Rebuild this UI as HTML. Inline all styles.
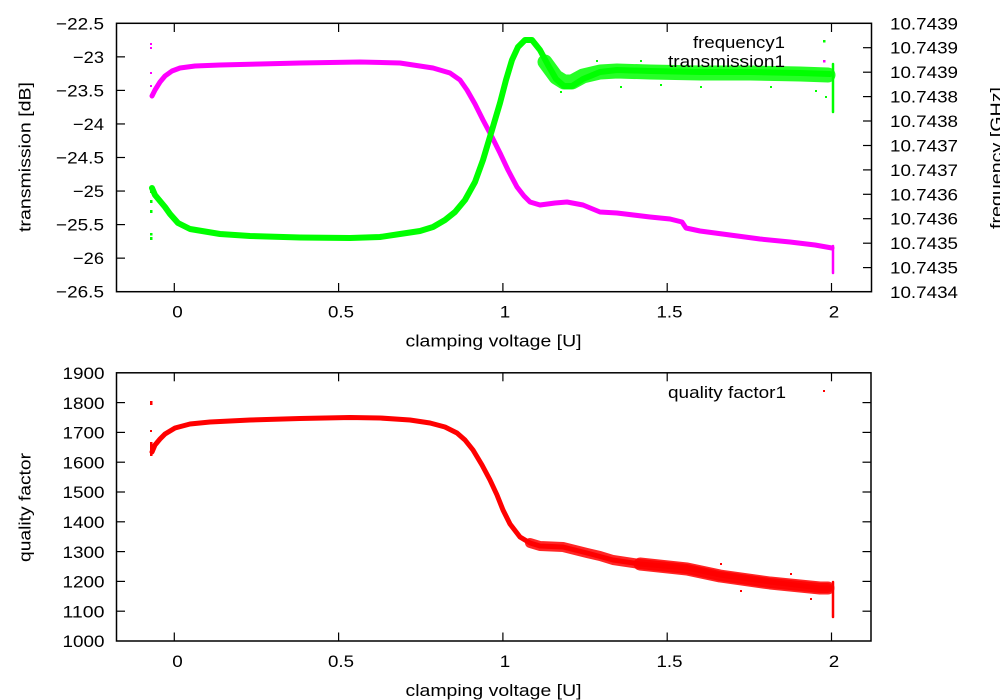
<!DOCTYPE html>
<html><head><meta charset="utf-8"><style>
html,body{margin:0;padding:0;background:#fff;}
svg{display:block;}
text{font-family:"Liberation Sans",Arial,sans-serif;font-size:17px;fill:#000;}
</style></head><body>
<svg width="1000" height="700" viewBox="0 0 1000 700" xmlns="http://www.w3.org/2000/svg">
<rect width="1000" height="700" fill="#fff"/>

<!-- ===== TOP PLOT ===== -->
<g fill="none" stroke-linecap="round" stroke-linejoin="round">
<polyline stroke="#ff00ff" stroke-width="5" points="152,96 155,90 160,82 165,76 172,71 180,68 195,66 220,65 260,64 300,63 360,62 400,63 433,68 450,73 460,80 467,90 475,104 483,120 492,137 500,153 508,170 517,187 524,196 530,202 540,205 555,203 567,202 583,205 600,212 617,213 650,217 670,219 682,222 686,228 700,231 730,235 760,239 790,242 815,245 832,248"/>
<line x1="833" y1="246" x2="833" y2="273" stroke="#ff00ff" stroke-width="2.5"/>
<polyline stroke="#00ff00" stroke-width="6" points="152,188 155,195 160,201 165,207 170,214 178,223 190,229 220,234 250,236 300,237.5 350,238 380,237 400,234 420,231 433,227 445,220 455,212 465,200 475,182 483,160 492,130 500,103 506,80 512,60 518,47 525,40 532,40 540,50 548,65 556,79 564,86 572,86 583,79 600,72 617,70 650,71 700,72 750,72 800,73 830,74"/>
<polyline stroke="#00ff00" stroke-width="15" stroke-opacity="0.85" points="545,62 556,77 564,82 572,82 583,76 600,72 617,71 650,72 700,73 750,73 800,74 828,75"/>
<line x1="833" y1="64" x2="833" y2="112" stroke="#00ff00" stroke-width="2.5"/>
</g>
<g fill="#ff00ff">
<rect x="150" y="43" width="2" height="2"/><rect x="150" y="47" width="2" height="2"/>
<rect x="150" y="72" width="2" height="2"/><rect x="150" y="85" width="2" height="2"/>
</g>
<g fill="#00ff00">
<rect x="150" y="210" width="2.5" height="3"/><rect x="150" y="233" width="2.5" height="2.5"/>
<rect x="150" y="237" width="2.5" height="3"/><rect x="150" y="190" width="2.5" height="3"/>
<rect x="150" y="200" width="2.5" height="3"/>
<rect x="596" y="60" width="2" height="2"/><rect x="640" y="60" width="2" height="2"/>
<rect x="700" y="86" width="2" height="2"/><rect x="770" y="86" width="2" height="2"/>
<rect x="815" y="90" width="2" height="2"/><rect x="825" y="96" width="2" height="2"/>
<rect x="740" y="59" width="2" height="2"/><rect x="560" y="91" width="2" height="2"/>
<rect x="660" y="84" width="2" height="2"/><rect x="620" y="86" width="2" height="2"/>
</g>

<g stroke="#000" stroke-width="1.5" fill="none">
<rect x="116.5" y="23.3" width="755" height="268.4"/>
</g>
<g stroke="#000" stroke-width="1.2">
<line x1="116.5" y1="56.85" x2="125" y2="56.85"/>
<line x1="116.5" y1="90.4" x2="125" y2="90.4"/>
<line x1="116.5" y1="123.95" x2="125" y2="123.95"/>
<line x1="116.5" y1="157.5" x2="125" y2="157.5"/>
<line x1="116.5" y1="191.05" x2="125" y2="191.05"/>
<line x1="116.5" y1="224.6" x2="125" y2="224.6"/>
<line x1="116.5" y1="258.15" x2="125" y2="258.15"/>
<line x1="871.5" y1="47.7" x2="863" y2="47.7"/>
<line x1="871.5" y1="72.2" x2="863" y2="72.2"/>
<line x1="871.5" y1="96.6" x2="863" y2="96.6"/>
<line x1="871.5" y1="121.0" x2="863" y2="121.0"/>
<line x1="871.5" y1="145.5" x2="863" y2="145.5"/>
<line x1="871.5" y1="169.9" x2="863" y2="169.9"/>
<line x1="871.5" y1="194.3" x2="863" y2="194.3"/>
<line x1="871.5" y1="218.7" x2="863" y2="218.7"/>
<line x1="871.5" y1="243.2" x2="863" y2="243.2"/>
<line x1="871.5" y1="267.6" x2="863" y2="267.6"/>
<line x1="174.3" y1="291.7" x2="174.3" y2="283"/><line x1="174.3" y1="23.3" x2="174.3" y2="32"/>
<line x1="338.6" y1="291.7" x2="338.6" y2="283"/><line x1="338.6" y1="23.3" x2="338.6" y2="32"/>
<line x1="502.9" y1="291.7" x2="502.9" y2="283"/><line x1="502.9" y1="23.3" x2="502.9" y2="32"/>
<line x1="667.2" y1="291.7" x2="667.2" y2="283"/><line x1="667.2" y1="23.3" x2="667.2" y2="32"/>
<line x1="831.5" y1="291.7" x2="831.5" y2="283"/><line x1="831.5" y1="23.3" x2="831.5" y2="32"/>
</g>
<g text-anchor="end">
<text x="104" y="29.5" textLength="48" lengthAdjust="spacingAndGlyphs">−22.5</text>
<text x="104" y="63" textLength="31" lengthAdjust="spacingAndGlyphs">−23</text>
<text x="104" y="96.5" textLength="48" lengthAdjust="spacingAndGlyphs">−23.5</text>
<text x="104" y="130" textLength="31" lengthAdjust="spacingAndGlyphs">−24</text>
<text x="104" y="163.5" textLength="48" lengthAdjust="spacingAndGlyphs">−24.5</text>
<text x="104" y="197" textLength="31" lengthAdjust="spacingAndGlyphs">−25</text>
<text x="104" y="230.6" textLength="48" lengthAdjust="spacingAndGlyphs">−25.5</text>
<text x="104" y="264.2" textLength="31" lengthAdjust="spacingAndGlyphs">−26</text>
<text x="104" y="297.7" textLength="48" lengthAdjust="spacingAndGlyphs">−26.5</text>
</g>
<g text-anchor="start">
<text x="890" y="29.3" textLength="68" lengthAdjust="spacingAndGlyphs">10.7439</text>
<text x="890" y="53.7" textLength="68" lengthAdjust="spacingAndGlyphs">10.7439</text>
<text x="890" y="78.2" textLength="68" lengthAdjust="spacingAndGlyphs">10.7439</text>
<text x="890" y="102.6" textLength="68" lengthAdjust="spacingAndGlyphs">10.7438</text>
<text x="890" y="127" textLength="68" lengthAdjust="spacingAndGlyphs">10.7438</text>
<text x="890" y="151.5" textLength="68" lengthAdjust="spacingAndGlyphs">10.7437</text>
<text x="890" y="175.9" textLength="68" lengthAdjust="spacingAndGlyphs">10.7437</text>
<text x="890" y="200.3" textLength="68" lengthAdjust="spacingAndGlyphs">10.7436</text>
<text x="890" y="224.7" textLength="68" lengthAdjust="spacingAndGlyphs">10.7436</text>
<text x="890" y="249.2" textLength="68" lengthAdjust="spacingAndGlyphs">10.7435</text>
<text x="890" y="273.6" textLength="68" lengthAdjust="spacingAndGlyphs">10.7435</text>
<text x="890" y="298" textLength="68" lengthAdjust="spacingAndGlyphs">10.7434</text>
</g>
<g text-anchor="middle">
<text x="177.5" y="317.5" textLength="10.5" lengthAdjust="spacingAndGlyphs">0</text>
<text x="341" y="317.5" textLength="26" lengthAdjust="spacingAndGlyphs">0.5</text>
<text x="505" y="317.5" textLength="10.5" lengthAdjust="spacingAndGlyphs">1</text>
<text x="669.5" y="317.5" textLength="26" lengthAdjust="spacingAndGlyphs">1.5</text>
<text x="834" y="317.5" textLength="10.5" lengthAdjust="spacingAndGlyphs">2</text>
<text x="493.5" y="346.5" textLength="176" lengthAdjust="spacingAndGlyphs">clamping voltage [U]</text>
</g>
<text transform="translate(30.5,157) rotate(-90)" text-anchor="middle" textLength="150" lengthAdjust="spacingAndGlyphs">transmission [dB]</text>
<text transform="translate(1002,158) rotate(-90)" text-anchor="middle" textLength="142" lengthAdjust="spacingAndGlyphs">frequency [GHz]</text>
<text x="785" y="48" text-anchor="end" textLength="92" lengthAdjust="spacingAndGlyphs">frequency1</text>
<text x="785" y="67" text-anchor="end" textLength="117" lengthAdjust="spacingAndGlyphs">transmission1</text>
<rect x="823" y="40" width="2.5" height="2.5" fill="#00ff00"/>
<rect x="823" y="60" width="2.5" height="2.5" fill="#ff00ff"/>

<!-- ===== BOTTOM PLOT ===== -->
<g fill="none" stroke-linecap="round" stroke-linejoin="round">
<polyline stroke="#ff0000" stroke-width="5" points="152,452 155,445 160,439 165,434 175,428 190,424 210,422 250,420 300,418.5 350,417.5 380,418 410,420 430,423 445,427 457,433 465,440 473,450 482,465 490,480 497,495 503,510 510,524 520,537 530,543 540,546 563,547 587,553 613,560 640,564 687,568 720,575 770,582 820,588 830,588"/>
<polyline stroke="#ff0000" stroke-width="10" stroke-opacity="0.85" points="530,543 540,546 563,547 587,553 600,556 613,560 640,564 687,569 720,576 770,583 820,588 828,588"/>
<polyline stroke="#ff0000" stroke-width="13" stroke-opacity="0.85" points="640,564 687,569 720,576 770,583 820,588 828,588"/>
<line x1="833" y1="582" x2="833" y2="617" stroke="#ff0000" stroke-width="2.5"/>
</g>
<g fill="#ff0000">
<rect x="150" y="401" width="2.5" height="4"/><rect x="150" y="430" width="2" height="2"/>
<rect x="150" y="442" width="2.5" height="14"/>
<rect x="720" y="563" width="2" height="2"/><rect x="790" y="573" width="2" height="2"/>
<rect x="740" y="590" width="2" height="2"/><rect x="810" y="598" width="2" height="2"/>
</g>
<g stroke="#000" stroke-width="1.5" fill="none">
<rect x="116.5" y="372.8" width="754.5" height="268.2"/>
</g>
<g stroke="#000" stroke-width="1.2">
<line x1="116.5" y1="402.6" x2="125" y2="402.6"/><line x1="871" y1="402.6" x2="862.5" y2="402.6"/>
<line x1="116.5" y1="432.4" x2="125" y2="432.4"/><line x1="871" y1="432.4" x2="862.5" y2="432.4"/>
<line x1="116.5" y1="462.2" x2="125" y2="462.2"/><line x1="871" y1="462.2" x2="862.5" y2="462.2"/>
<line x1="116.5" y1="492" x2="125" y2="492"/><line x1="871" y1="492" x2="862.5" y2="492"/>
<line x1="116.5" y1="521.8" x2="125" y2="521.8"/><line x1="871" y1="521.8" x2="862.5" y2="521.8"/>
<line x1="116.5" y1="551.6" x2="125" y2="551.6"/><line x1="871" y1="551.6" x2="862.5" y2="551.6"/>
<line x1="116.5" y1="581.4" x2="125" y2="581.4"/><line x1="871" y1="581.4" x2="862.5" y2="581.4"/>
<line x1="116.5" y1="611.2" x2="125" y2="611.2"/><line x1="871" y1="611.2" x2="862.5" y2="611.2"/>
<line x1="174.3" y1="641" x2="174.3" y2="632.5"/><line x1="174.3" y1="372.8" x2="174.3" y2="381.3"/>
<line x1="338.6" y1="641" x2="338.6" y2="632.5"/><line x1="338.6" y1="372.8" x2="338.6" y2="381.3"/>
<line x1="502.9" y1="641" x2="502.9" y2="632.5"/><line x1="502.9" y1="372.8" x2="502.9" y2="381.3"/>
<line x1="667.2" y1="641" x2="667.2" y2="632.5"/><line x1="667.2" y1="372.8" x2="667.2" y2="381.3"/>
<line x1="831.5" y1="641" x2="831.5" y2="632.5"/><line x1="831.5" y1="372.8" x2="831.5" y2="381.3"/>
</g>
<g text-anchor="end">
<text x="104.5" y="379" textLength="42" lengthAdjust="spacingAndGlyphs">1900</text>
<text x="104.5" y="408.8" textLength="42" lengthAdjust="spacingAndGlyphs">1800</text>
<text x="104.5" y="438.6" textLength="42" lengthAdjust="spacingAndGlyphs">1700</text>
<text x="104.5" y="468.4" textLength="42" lengthAdjust="spacingAndGlyphs">1600</text>
<text x="104.5" y="498.2" textLength="42" lengthAdjust="spacingAndGlyphs">1500</text>
<text x="104.5" y="528" textLength="42" lengthAdjust="spacingAndGlyphs">1400</text>
<text x="104.5" y="557.8" textLength="42" lengthAdjust="spacingAndGlyphs">1300</text>
<text x="104.5" y="587.6" textLength="42" lengthAdjust="spacingAndGlyphs">1200</text>
<text x="104.5" y="617.4" textLength="42" lengthAdjust="spacingAndGlyphs">1100</text>
<text x="104.5" y="647.2" textLength="42" lengthAdjust="spacingAndGlyphs">1000</text>
</g>
<g text-anchor="middle">
<text x="177.5" y="667" textLength="10.5" lengthAdjust="spacingAndGlyphs">0</text>
<text x="341" y="667" textLength="26" lengthAdjust="spacingAndGlyphs">0.5</text>
<text x="505" y="667" textLength="10.5" lengthAdjust="spacingAndGlyphs">1</text>
<text x="669.5" y="667" textLength="26" lengthAdjust="spacingAndGlyphs">1.5</text>
<text x="834" y="667" textLength="10.5" lengthAdjust="spacingAndGlyphs">2</text>
<text x="493.5" y="696" textLength="176" lengthAdjust="spacingAndGlyphs">clamping voltage [U]</text>
</g>
<text transform="translate(30.5,507.5) rotate(-90)" text-anchor="middle" textLength="109" lengthAdjust="spacingAndGlyphs">quality factor</text>
<text x="786" y="398" text-anchor="end" textLength="118" lengthAdjust="spacingAndGlyphs">quality factor1</text>
<rect x="823" y="390" width="2" height="2" fill="#ff0000"/>
</svg>
</body></html>
